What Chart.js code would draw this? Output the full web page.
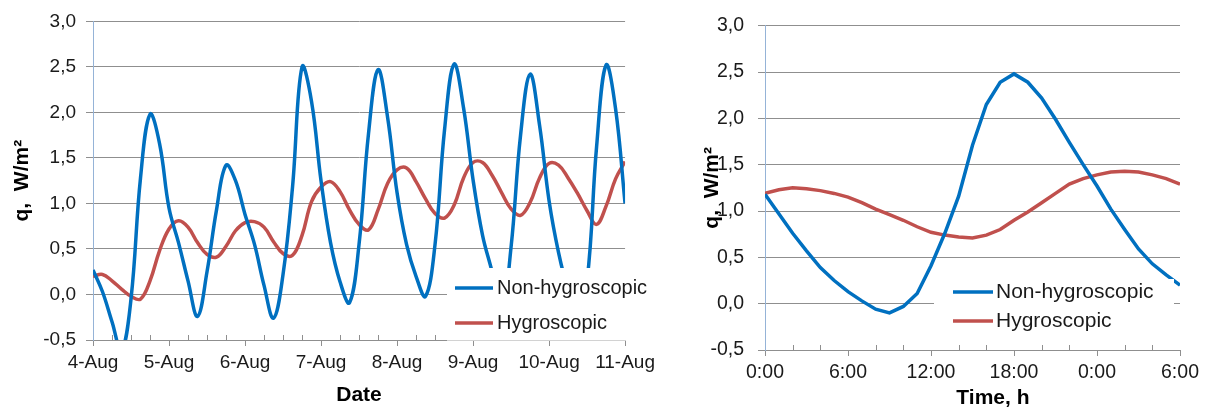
<!DOCTYPE html>
<html><head><meta charset="utf-8">
<script src="https://cdn.jsdelivr.net/npm/chart.js@4.4.1/dist/chart.umd.min.js"></script>
<style>
html,body{margin:0;padding:0;background:#fff;width:1208px;height:411px;overflow:hidden}
#c1{position:absolute;left:0;top:0}
#c2{position:absolute;left:660px;top:0}
</style></head><body>
<canvas id="c1" width="660" height="411"></canvas>
<canvas id="c2" width="548" height="411"></canvas>
<script>
// ---------- data ----------
const seriesNames = ['Non-hygroscopic', 'Hygroscopic'];
const yTickValues = [-0.5, 0, 0.5, 1.0, 1.5, 2.0, 2.5, 3.0];

// Left chart: hours since 4-Aug 0:00 (3-hour readings)
const dateLabels = ['4-Aug', '5-Aug', '6-Aug', '7-Aug', '8-Aug', '9-Aug', '10-Aug', '11-Aug'];
const leftHours = [0,3,6,9,12,15,18,21,
  24,27,30,33,36,39,42,45,
  48,51,54,57,60,63,66,69,
  72,75,78,81,84,87,90,93,
  96,99,102,105,108,111,114,117,
  120,123,126,129,132,135,138,141,
  144,147,150,153,156,159,162,165,168];
const leftNonHygro = [
  0.27, 0.03, -0.30, -0.62, -0.05, 1.28, 1.98, 1.66,
  0.95, 0.57, 0.15, -0.24, 0.25, 0.93, 1.42, 1.25,
  0.88, 0.55, 0.10, -0.26, 0.22, 1.18, 2.50, 2.12,
  1.25, 0.57, 0.14, -0.09, 0.55, 1.77, 2.47, 1.95,
  1.12, 0.55, 0.20, -0.02, 0.55, 1.81, 2.53, 2.05,
  1.26, 0.65, 0.25, -0.20, 0.52, 1.75, 2.42, 1.86,
  1.03, 0.46, 0.05, -0.20, 0.15, 1.62, 2.52, 2.04,
  1.00];
const leftHygro = [
  0.20, 0.22, 0.15, 0.06, -0.02, -0.05, 0.15, 0.48,
  0.72, 0.81, 0.74, 0.57, 0.44, 0.41, 0.53, 0.70,
  0.79, 0.80, 0.74, 0.58, 0.45, 0.43, 0.65, 1.02,
  1.18, 1.24, 1.13, 0.93, 0.77, 0.71, 0.93, 1.22,
  1.37, 1.39, 1.24, 1.05, 0.89, 0.84, 0.98, 1.28,
  1.45, 1.45, 1.31, 1.12, 0.94, 0.87, 1.01, 1.28,
  1.44, 1.42, 1.28, 1.11, 0.92, 0.77, 0.97, 1.27,
  1.46];

// Right chart: hours since 0:00 (hourly readings)
const timeLabels = ['0:00', '6:00', '12:00', '18:00', '0:00', '6:00'];
const rightHours = [0,1,2,3,4,5,6,7,8,9,10,11,12,13,14,15,16,17,18,19,20,21,22,23,24,25,26,27,28,29,30];
const rightNonHygro = [1.18, 0.97, 0.76, 0.57, 0.39, 0.25, 0.13, 0.03, -0.06, -0.10, -0.03, 0.11,
  0.41, 0.76, 1.16, 1.71, 2.15, 2.39, 2.48, 2.39, 2.22, 1.99, 1.74, 1.50, 1.27, 1.02, 0.80, 0.59, 0.43, 0.31, 0.20];
const rightHygro = [1.19, 1.23, 1.25, 1.24, 1.22, 1.19, 1.15, 1.09, 1.02, 0.96, 0.90, 0.83,
  0.77, 0.74, 0.72, 0.71, 0.74, 0.80, 0.90, 0.99, 1.09, 1.19, 1.29, 1.35, 1.39, 1.42, 1.43, 1.42, 1.39, 1.35, 1.29];

// ---------- style ----------
const BLUE = '#0070C0', RED = '#C0504D', GRID = '#8f8f8f', YAXIS = '#95b3d7', TXT = '#1a1a1a';
const FAM = '"Liberation Sans", Arial, sans-serif';

const pts = (xs, ys) => xs.map((x, i) => ({x, y: ys[i]}));
const fmtY = v => v.toFixed(1).replace('.', ',');

const minorTicks = {
  id: 'minorTicks',
  afterDraw(chart, args, o) {
    const sx = chart.scales.x, ctx = chart.ctx;
    ctx.save(); ctx.strokeStyle = GRID; ctx.lineWidth = 1;
    for (let v = sx.min; v <= sx.max; v += o.step) {
      if (v % o.major === 0) continue;
      const px = Math.round(sx.getPixelForValue(v)) + 0.5;
      ctx.beginPath(); ctx.moveTo(px, sx.top); ctx.lineTo(px, sx.top - o.len); ctx.stroke();
    }
    ctx.restore();
  }
};
const boxLegend = {
  id: 'boxLegend',
  afterDraw(chart, args, o) {
    const ctx = chart.ctx; ctx.save();
    ctx.fillStyle = '#fff'; ctx.fillRect(o.x, o.y, o.w, o.h);
    chart.data.datasets.forEach((ds, i) => {
      const y = o.rows[i];
      ctx.strokeStyle = ds.borderColor; ctx.lineWidth = ds.borderWidth; ctx.lineCap = 'butt';
      ctx.beginPath(); ctx.moveTo(o.lx0, y); ctx.lineTo(o.lx1, y); ctx.stroke();
      ctx.fillStyle = TXT; ctx.font = o.font; ctx.textBaseline = 'middle'; ctx.textAlign = 'left';
      ctx.fillText(ds.label, o.tx, y);
    });
    ctx.restore();
  }
};

function makeChart(id, cfg) {
  const ds = (label, ys, color) => ({ label, data: pts(cfg.xs, ys), borderColor: color, borderWidth: 3.5,
    pointRadius: 0, tension: cfg.tension });
  return new Chart(document.getElementById(id), {
    type: 'line',
    data: { datasets: [ ds(seriesNames[0], cfg.blue, BLUE), ds(seriesNames[1], cfg.red, RED) ] },
    options: {
      responsive: false, animation: false, devicePixelRatio: 1,
      layout: { padding: cfg.pad },
      plugins: { legend: { display: false }, tooltip: { enabled: false },
        minorTicks: cfg.minor, boxLegend: cfg.legend },
      scales: {
        x: {
          type: 'linear', min: cfg.xmin, max: cfg.xmax,
          afterFit: s => { s.height = cfg.xh; },
          ticks: { stepSize: cfg.xstep, autoSkip: false, maxRotation: 0, padding: 5, color: TXT,
            font: { family: FAM, size: cfg.tickSize }, callback: cfg.xcb },
          grid: { drawOnChartArea: false, drawTicks: true, tickLength: 6, color: GRID },
          border: { color: GRID, width: 1 },
          title: { display: true, text: cfg.xtitle, color: '#000', font: { family: FAM, size: 21, weight: 'bold' },
            padding: { top: 0, bottom: cfg.xtpad } }
        },
        y: {
          min: -0.5, max: 3.0,
          afterFit: s => { s.width = cfg.yw; },
          afterBuildTicks: s => { s.ticks = yTickValues.map(v => ({ value: v })); },
          ticks: { padding: cfg.ypad, color: TXT, font: { family: FAM, size: cfg.tickSize }, callback: v => fmtY(v) },
          grid: { color: GRID, tickLength: 7, drawTicks: true },
          border: { color: YAXIS, width: 1 },
          title: { display: true, text: 'q,  W/m\u00B2', color: '#000', font: { family: FAM, size: 21, weight: 'bold' },
            padding: { top: cfg.ytpad, bottom: 0 } }
        }
      }
    },
    plugins: [minorTicks, boxLegend]
  });
}

makeChart('c1', {
  xs: leftHours, blue: leftNonHygro, red: leftHygro, tension: 0.4,
  xmin: 0, xmax: 168, xstep: 24, xcb: v => dateLabels[v / 24],
  pad: { left: 0, right: 30, top: 17, bottom: 0 }, xh: 71, yw: 93,
  tickSize: 19, ypad: 10, xtitle: 'Date', xtpad: 3, ytpad: 10,
  minor: { step: 6, major: 24, len: 5 },
  legend: { x: 447, y: 268, w: 208, h: 72.6, lx0: 455, lx1: 493, tx: 497, rows: [288, 323],
    font: '20px ' + FAM }
});

makeChart('c2', {
  xs: rightHours, blue: rightNonHygro, red: rightHygro, tension: 0,
  xmin: 0, xmax: 30, xstep: 6, xcb: v => timeLabels[v / 6],
  pad: { left: 0, right: 28, top: 17, bottom: 0 }, xh: 61, yw: 105,
  tickSize: 19.5, ypad: 14, xtitle: '       Time, h', xtpad: 0, ytpad: 40,
  minor: { step: 2, major: 6, len: 5 },
  legend: { x: 274, y: 279, w: 240, h: 66, lx0: 293, lx1: 333, tx: 336, rows: [292, 321],
    font: '21px ' + FAM }
});
</script>
</body></html>
